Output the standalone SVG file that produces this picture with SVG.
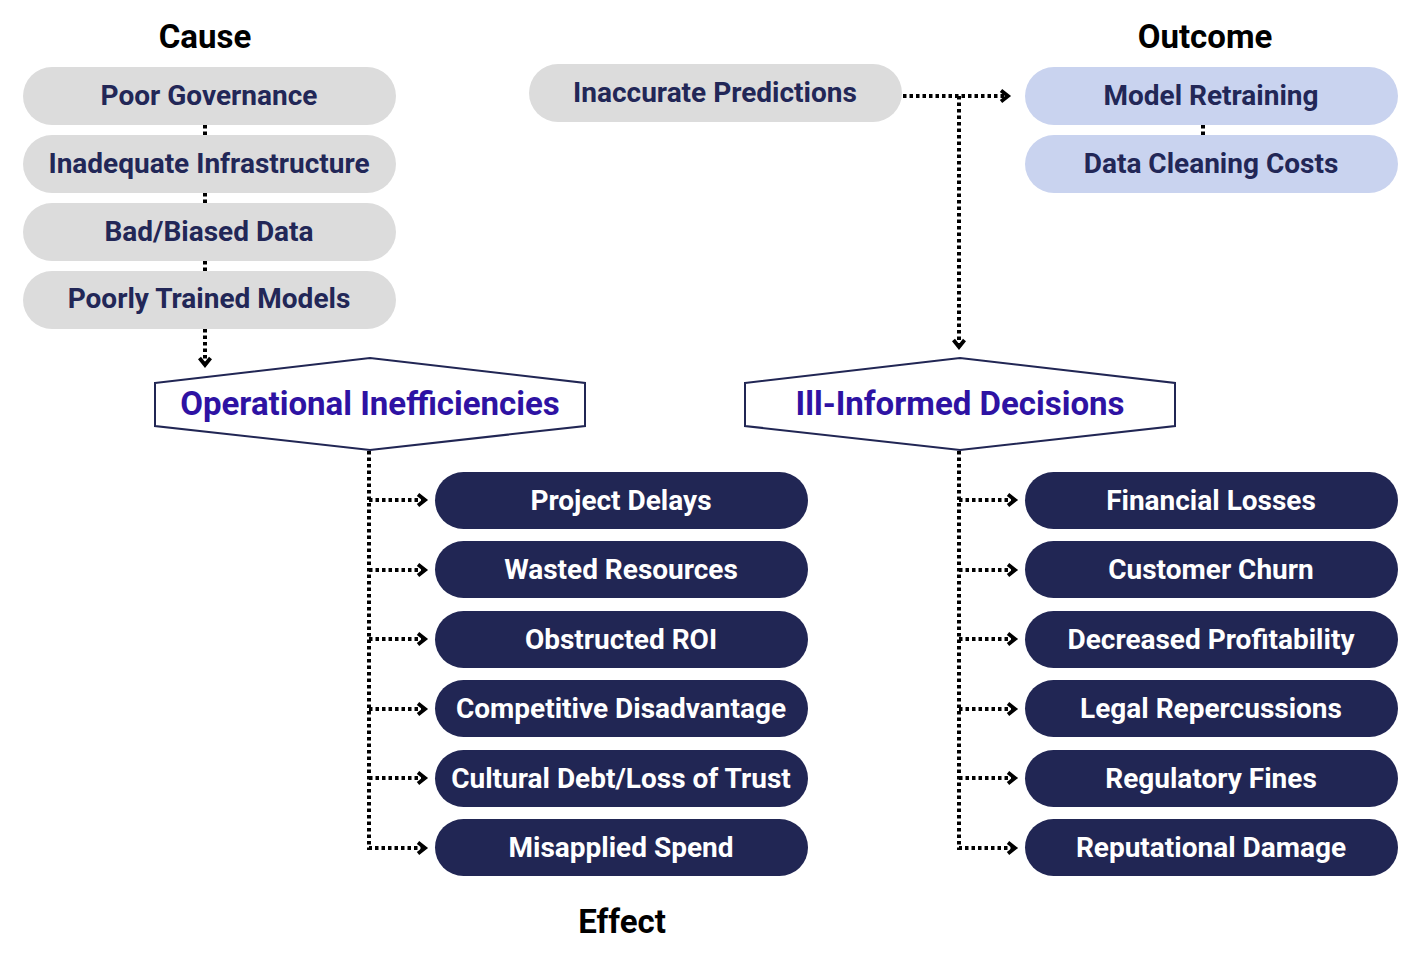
<svg xmlns="http://www.w3.org/2000/svg" width="1427" height="954" viewBox="0 0 1427 954">
<style>
text{font-family:Roboto,"Liberation Sans",sans-serif;font-weight:700;text-anchor:middle}
.title{font-size:33px;fill:#000}
.cause rect{fill:#dcdcdc}
.cause text,.pred text{font-size:28px;fill:#222757}
.pred rect{fill:#dcdcdc}
.out rect{fill:#c9d3ef}
.out text{font-size:28px;fill:#222757}
.eff rect{fill:#212654}
.eff text{font-size:28px;fill:#fff}
.hex polygon{fill:#fff;stroke:#212654;stroke-width:2}
.hex text{font-size:33px;fill:#2e12a3}
.conn path{fill:none;stroke:#000;stroke-width:4;stroke-dasharray:3.5 3}
.conn path.head{stroke-dasharray:none;stroke-width:3.8}
</style>
<rect width="1427" height="954" fill="#fff"/>
<text class="title" x="205" y="48">Cause</text>
<text class="title" x="1205" y="48">Outcome</text>
<text class="title" x="622" y="933">Effect</text>

<g class="conn">
<path d="M205,125 V135"/>
<path d="M205,193 V203"/>
<path d="M205,261 V271"/>
<path d="M205,329 V362"/>
<path class="head" d="M199.5,358 L205,365 L210.5,358"/>
<path d="M1203,125 V135"/>
<path d="M903,96 H1005"/>
<path class="head" d="M1001,90.5 L1008,96 L1001,101.5"/>
<path d="M959,96 V344"/>
<path class="head" d="M953.5,340 L959,347 L964.5,340"/>
<path d="M369,451 V848 H422"/>
<path d="M369,500 H422"/>
<path d="M369,570 H422"/>
<path d="M369,639 H422"/>
<path d="M369,709 H422"/>
<path d="M369,778 H422"/>
<path class="head" d="M418,494.5 L425,500 L418,505.5"/>
<path class="head" d="M418,564.5 L425,570 L418,575.5"/>
<path class="head" d="M418,633.5 L425,639 L418,644.5"/>
<path class="head" d="M418,703.5 L425,709 L418,714.5"/>
<path class="head" d="M418,772.5 L425,778 L418,783.5"/>
<path class="head" d="M418,842.5 L425,848 L418,853.5"/>
<path d="M959,451 V848 H1012"/>
<path d="M959,500 H1012"/>
<path d="M959,570 H1012"/>
<path d="M959,639 H1012"/>
<path d="M959,709 H1012"/>
<path d="M959,778 H1012"/>
<path class="head" d="M1008,494.5 L1015,500 L1008,505.5"/>
<path class="head" d="M1008,564.5 L1015,570 L1008,575.5"/>
<path class="head" d="M1008,633.5 L1015,639 L1008,644.5"/>
<path class="head" d="M1008,703.5 L1015,709 L1008,714.5"/>
<path class="head" d="M1008,772.5 L1015,778 L1008,783.5"/>
<path class="head" d="M1008,842.5 L1015,848 L1008,853.5"/>
</g>

<g id="poor-governance" class="cause"><rect x="23" y="67" width="373" height="58" rx="29"/><text x="209" y="105">Poor Governance</text></g>
<g id="inadequate-infrastructure" class="cause"><rect x="23" y="135" width="373" height="58" rx="29"/><text x="209" y="173">Inadequate Infrastructure</text></g>
<g id="bad-biased-data" class="cause"><rect x="23" y="203" width="373" height="58" rx="29"/><text x="209" y="241">Bad/Biased Data</text></g>
<g id="poorly-trained-models" class="cause"><rect x="23" y="271" width="373" height="58" rx="29"/><text x="209" y="308">Poorly Trained Models</text></g>

<g id="inaccurate-predictions" class="pred"><rect x="529" y="64" width="373" height="58" rx="29"/><text x="715" y="102">Inaccurate Predictions</text></g>

<g id="model-retraining" class="out"><rect x="1025" y="67" width="373" height="58" rx="29"/><text x="1211" y="105">Model Retraining</text></g>
<g id="data-cleaning-costs" class="out"><rect x="1025" y="135" width="373" height="58" rx="29"/><text x="1211" y="173">Data Cleaning Costs</text></g>

<g id="operational-inefficiencies" class="hex"><polygon points="155,383 370,358 585,383 585,426 370,450 155,426"/><text x="370" y="415">Operational Inefficiencies</text></g>
<g id="ill-informed-decisions" class="hex"><polygon points="745,383 960,358 1175,383 1175,426 960,450 745,426"/><text x="960" y="415">Ill-Informed Decisions</text></g>

<g id="project-delays" class="eff"><rect x="435" y="472" width="373" height="57" rx="28.5"/><text x="621" y="510">Project Delays</text></g>
<g id="wasted-resources" class="eff"><rect x="435" y="541" width="373" height="57" rx="28.5"/><text x="621" y="579">Wasted Resources</text></g>
<g id="obstructed-roi" class="eff"><rect x="435" y="611" width="373" height="57" rx="28.5"/><text x="621" y="649">Obstructed ROI</text></g>
<g id="competitive-disadvantage" class="eff"><rect x="435" y="680" width="373" height="57" rx="28.5"/><text x="621" y="718">Competitive Disadvantage</text></g>
<g id="cultural-debt" class="eff"><rect x="435" y="750" width="373" height="57" rx="28.5"/><text x="621" y="788">Cultural Debt/Loss of Trust</text></g>
<g id="misapplied-spend" class="eff"><rect x="435" y="819" width="373" height="57" rx="28.5"/><text x="621" y="857">Misapplied Spend</text></g>

<g id="financial-losses" class="eff"><rect x="1025" y="472" width="373" height="57" rx="28.5"/><text x="1211" y="510">Financial Losses</text></g>
<g id="customer-churn" class="eff"><rect x="1025" y="541" width="373" height="57" rx="28.5"/><text x="1211" y="579">Customer Churn</text></g>
<g id="decreased-profitability" class="eff"><rect x="1025" y="611" width="373" height="57" rx="28.5"/><text x="1211" y="649">Decreased Profitability</text></g>
<g id="legal-repercussions" class="eff"><rect x="1025" y="680" width="373" height="57" rx="28.5"/><text x="1211" y="718">Legal Repercussions</text></g>
<g id="regulatory-fines" class="eff"><rect x="1025" y="750" width="373" height="57" rx="28.5"/><text x="1211" y="788">Regulatory Fines</text></g>
<g id="reputational-damage" class="eff"><rect x="1025" y="819" width="373" height="57" rx="28.5"/><text x="1211" y="857">Reputational Damage</text></g>
</svg>
